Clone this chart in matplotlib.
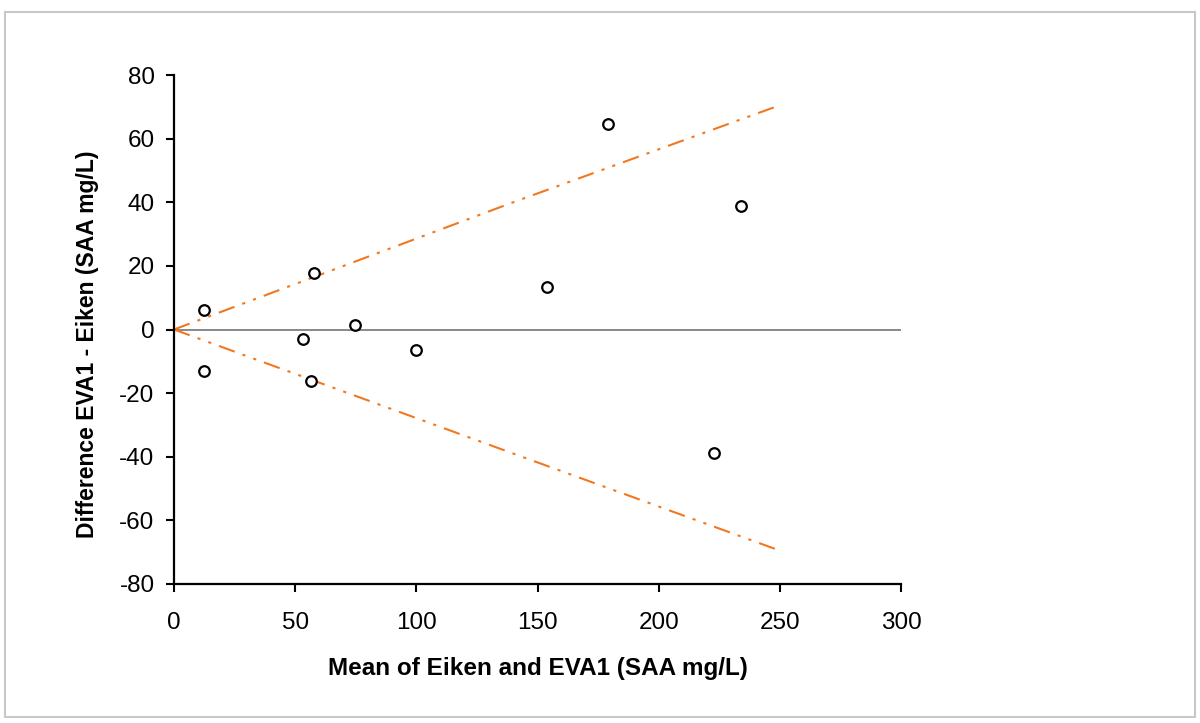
import matplotlib
matplotlib.use("Agg")
import matplotlib.pyplot as plt
from matplotlib.patches import Rectangle

plt.rcParams['font.family'] = ['Liberation Sans', 'DejaVu Sans']
plt.rcParams['axes.unicode_minus'] = False

mean_vals = [12.4, 12.4, 53.2, 57.8, 56.5, 74.7, 99.9, 153.9, 179.1, 234.0, 222.9]
diff_vals = [6.1, -13.0, -3.0, 17.8, -16.2, 1.4, -6.4, 13.4, 64.6, 38.8, -38.8]

limit_x = [0, 140, 250]
upper_limit = [0, 40, 70.5]
lower_limit = [0, -39, -69.5]

xticks = [0, 50, 100, 150, 200, 250, 300]
yticks = [-80, -60, -40, -20, 0, 20, 40, 60, 80]

fig = plt.figure(figsize=(12, 7.23), dpi=100)
ax = fig.add_axes([174/1200, 1-584/723, (901-174)/1200, (584-75)/723])

ax.plot([0, 300], [0, 0], color='#808080', lw=1.3, zorder=1)
ls = (0, (8, 4, 1.5, 4, 1.5, 4))
ax.plot(limit_x, upper_limit, color='#f07820', lw=1.5, ls=ls, zorder=2)
ax.plot(limit_x, lower_limit, color='#f07820', lw=1.5, ls=ls, zorder=2)
ax.scatter(mean_vals, diff_vals, s=58, facecolors='white', edgecolors='black', linewidths=1.6, zorder=3)

ax.set_xlim(0, 300)
ax.set_ylim(-80, 80)
ax.set_xticks(xticks)
ax.set_yticks(yticks)
ax.spines['top'].set_visible(False)
ax.spines['right'].set_visible(False)
for s in ['left', 'bottom']:
    ax.spines[s].set_linewidth(1.6)
    ax.spines[s].set_color('black')
ax.tick_params(axis='both', direction='out', length=6, width=1.5, labelsize=17.5)
ax.tick_params(axis='x', pad=14)
ax.tick_params(axis='y', pad=8)
ax.set_xlabel('Mean of Eiken and EVA1 (SAA mg/L)', fontsize=17.5, fontweight='bold', va='center')
ax.set_ylabel('Difference EVA1 - Eiken (SAA mg/L)', fontsize=16.5, fontweight='bold', va='center')
ax.xaxis.set_label_coords(0.5, (584-668)/509)
ax.yaxis.set_label_coords((88-174)/727, 0.471)

fig.patches.append(Rectangle((5/1200, 1-717/723), 1190/1200, (717-12)/723,
                             transform=fig.transFigure, fill=False,
                             edgecolor='#c8c8c8', lw=1.5))

fig.savefig('out.png', dpi=100, facecolor='white')
